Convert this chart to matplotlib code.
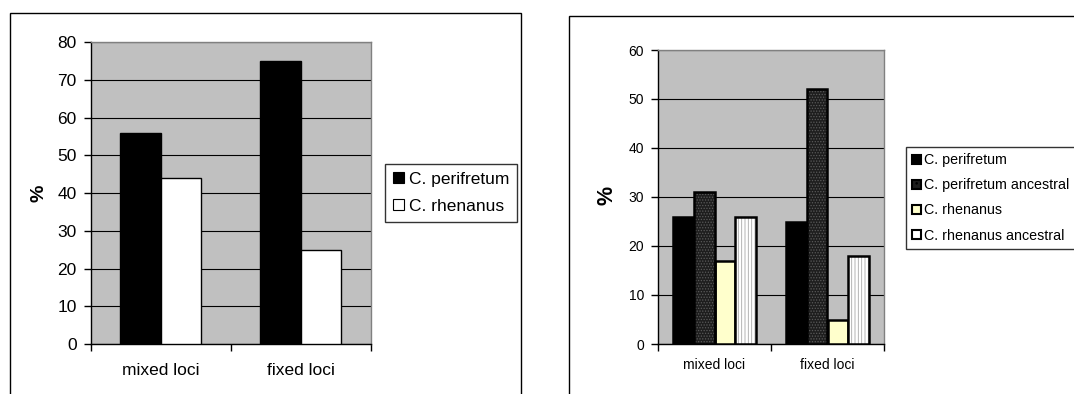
import matplotlib
matplotlib.use("Agg")
import matplotlib.pyplot as plt
import numpy as np
from matplotlib.patches import Rectangle, Patch

plt.rcParams['font.family'] = ['Liberation Sans', 'DejaVu Sans']

# Data
categories = ["mixed loci", "fixed loci"]

left_series = ["C. perifretum", "C. rhenanus"]
left_values = [
    [56, 75],   # C. perifretum
    [44, 25],   # C. rhenanus
]

right_series = ["C. perifretum", "C. perifretum ancestral",
                "C. rhenanus", "C. rhenanus ancestral"]
right_values = [
    [26, 25],   # C. perifretum
    [31, 52],   # C. perifretum ancestral
    [17, 5],    # C. rhenanus
    [26, 18],   # C. rhenanus ancestral
]

W, H = 1074, 394
fig = plt.figure(figsize=(W / 100, H / 100), dpi=100)
fig.patch.set_facecolor("white")

def px(x0, y0, x1, y1):
    """pixel box (top-left origin) -> figure fraction [l, b, w, h]"""
    return [x0 / W, 1 - y1 / H, (x1 - x0) / W, (y1 - y0) / H]

# Outer frames around each chart
fig.add_artist(Rectangle((10 / W, 0 - 0.05), (521 - 10) / W, 1 - 12.7 / H + 0.05,
                         transform=fig.transFigure, fill=False,
                         edgecolor="black", linewidth=1.0))
fig.add_artist(Rectangle((569 / W, 0 - 0.05), 0.5, 1 - 16 / H + 0.05,
                         transform=fig.transFigure, fill=False,
                         edgecolor="black", linewidth=1.0))

PLOT_BG = "#c0c0c0"


def style_axes(ax, ymax, ystep, fs, xpad):
    ax.set_facecolor(PLOT_BG)
    ax.set_xlim(-0.5, 1.5)
    ax.set_ylim(0, ymax)
    ax.set_yticks(np.arange(0, ymax + 1, ystep))
    ax.yaxis.grid(True, color="black", linewidth=0.8)
    ax.set_axisbelow(True)
    for s in ("top", "right"):
        ax.spines[s].set_color("#808080")
        ax.spines[s].set_linewidth(1.0)
    for s in ("left", "bottom"):
        ax.spines[s].set_color("black")
        ax.spines[s].set_linewidth(1.0)
    ax.set_xticks([0, 1])
    ax.set_xticklabels(categories, fontsize=fs)
    ax.tick_params(axis="x", which="major", length=0, pad=xpad)
    ax.set_xticks([-0.5, 0.5, 1.5], minor=True)
    ax.tick_params(axis="x", which="minor", length=5, width=1.0,
                   direction="out", color="black")
    ax.tick_params(axis="y", length=5, width=1.0, direction="out",
                   labelsize=fs, pad=5, color="black")


# ---------- Left chart ----------
axL = fig.add_axes(px(90.6, 42.3, 370.9, 344))
style_axes(axL, 80, 10, 12.5, 13.5)
x = np.arange(len(categories))
bw = 0.289
left_colors = ["black", "white"]
for i, (name, vals) in enumerate(zip(left_series, left_values)):
    offs = (i - 0.5) * bw
    axL.bar(x + offs, vals, bw, color=left_colors[i], edgecolor="black",
            linewidth=1.0, label=name, zorder=3)

handlesL = [Patch(facecolor=c, edgecolor="black", linewidth=0.8)
            for c in left_colors]
legL = fig.legend(handlesL, left_series, loc="upper left",
                  bbox_to_anchor=(385.4 / W, 1 - 163.7 / H),
                  fontsize=12.5, frameon=True, fancybox=False, shadow=False,
                  borderpad=0.45, labelspacing=0.72, handlelength=0.6,
                  handleheight=0.6, handletextpad=0.3, borderaxespad=0)
legL.get_frame().set_edgecolor("black")
legL.get_frame().set_linewidth(1.0)

fig.text(39.5 / W, 1 - 193 / H, "%", rotation=90, fontsize=14,
         fontweight="bold", ha="center", va="center")

# ---------- Right chart ----------
axR = fig.add_axes(px(658, 50, 884, 344))
style_axes(axR, 60, 10, 10, 10)
bw2 = 0.185
plt.rcParams['hatch.linewidth'] = 0.6

fills = ["black", "#1e1e1e", "#ffffcc", "white"]
hatches = [None, "......", None, "|||||"]
hatch_cols = [None, "#5a5a5a", None, "#a8a8a8"]
for i, (name, vals) in enumerate(zip(right_series, right_values)):
    offs = (i - 1.5) * bw2
    if hatches[i] is None:
        axR.bar(x + offs, vals, bw2, color=fills[i], edgecolor="black",
                linewidth=1.8, zorder=3)
    else:
        axR.bar(x + offs, vals, bw2, color=fills[i], edgecolor=hatch_cols[i],
                hatch=hatches[i], linewidth=0, zorder=3)
        axR.bar(x + offs, vals, bw2, fill=False, edgecolor="black",
                linewidth=1.8, zorder=4)

handlesR = []
for i in range(4):
    if hatches[i] is None:
        handlesR.append(Patch(facecolor=fills[i], edgecolor="black",
                              linewidth=1.5))
    else:
        handlesR.append(Patch(facecolor=fills[i], edgecolor="black",
                              hatch=hatches[i][:2], linewidth=1.5))
legR = fig.legend(handlesR, right_series, loc="upper left",
                  bbox_to_anchor=(906 / W, 1 - 146.7 / H),
                  fontsize=10.3, frameon=True, fancybox=False, shadow=False,
                  borderpad=0.45, labelspacing=0.78, handlelength=0.6,
                  handleheight=0.6, handletextpad=0.2, borderaxespad=0)
legR.get_frame().set_edgecolor("black")
legR.get_frame().set_linewidth(1.0)

fig.text(607 / W, 1 - 195 / H, "%", rotation=90, fontsize=15.5,
         fontweight="bold", ha="center", va="center")

fig.savefig("out.png", dpi=100, facecolor="white")
